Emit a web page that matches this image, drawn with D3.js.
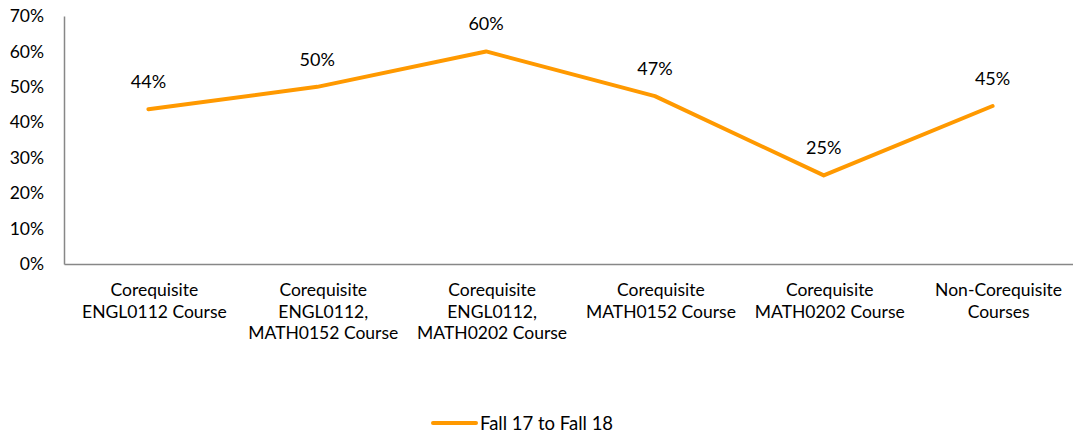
<!DOCTYPE html>
<html>
<head>
<meta charset="utf-8">
<script src="https://cdn.jsdelivr.net/npm/d3@7"></script>
<style>
  body { margin: 0; background: #fff; }
  svg text { font-family: Lato, "Open Sans", sans-serif; fill: #000; }
</style>
</head>
<body>
<svg id="chart" width="1073" height="435"></svg>
<script>
'use strict';

// categories (multi-line labels) and the single series
const categories = [
  ['Corequisite', 'ENGL0112 Course'],
  ['Corequisite', 'ENGL0112,', 'MATH0152 Course'],
  ['Corequisite', 'ENGL0112,', 'MATH0202  Course'],
  ['Corequisite', 'MATH0152 Course'],
  ['Corequisite', 'MATH0202 Course'],
  ['Non-Corequisite', 'Courses'],
];
const seriesName = 'Fall 17 to Fall 18';
const values = [0.437, 0.50, 0.60, 0.474, 0.25, 0.446];
const yTicks = [0, 0.1, 0.2, 0.3, 0.4, 0.5, 0.6, 0.7];

const orange = '#FF9900';
const axisGrey = '#878787';

const svg = d3.select('#chart');
const plot = { left: 64, right: 1077, top: 16, bottom: 264 };

const keys = categories.map((d, i) => i);
const xScale = d3.scaleBand().domain(keys).range([plot.left, plot.right]);
const yScale = d3.scaleLinear().domain([0, 0.7]).range([plot.bottom, plot.top]);
const pct = d3.format('.0%');

// y axis
const yAxis = svg.append('g')
  .attr('transform', `translate(${plot.left},0)`)
  .call(d3.axisLeft(yScale).tickValues(yTicks).tickSize(0).tickPadding(20)
    .tickFormat(pct));
yAxis.select('.domain').attr('stroke', axisGrey).attr('stroke-width', 1.5);
yAxis.selectAll('text').attr('font-size', '17.5px').attr('font-family', null);

// x axis
const xAxis = svg.append('g')
  .attr('transform', `translate(0,${plot.bottom})`)
  .call(d3.axisBottom(xScale).tickSize(0).tickFormat(''));
xAxis.select('.domain').attr('stroke', axisGrey).attr('stroke-width', 1.5);

// category labels
svg.append('g')
  .selectAll('text')
  .data(categories)
  .join('text')
  .attr('text-anchor', 'middle')
  .attr('font-size', '17.5px')
  .attr('transform', (d, i) => `translate(${xScale(i) + xScale.bandwidth() / 2 + 6},${plot.bottom + 32})`)
  .selectAll('tspan')
  .data(d => d)
  .join('tspan')
  .attr('x', 0)
  .attr('y', (d, i) => i * 21.5)
  .text(d => d);

// the line
const line = d3.line()
  .x((d, i) => xScale(i) + xScale.bandwidth() / 2)
  .y(d => yScale(d));
svg.append('path')
  .datum(values)
  .attr('d', line)
  .attr('fill', 'none')
  .attr('stroke', orange)
  .attr('stroke-width', 4)
  .attr('stroke-linejoin', 'round')
  .attr('stroke-linecap', 'round');

// data labels
svg.append('g')
  .selectAll('text')
  .data(values)
  .join('text')
  .attr('text-anchor', 'middle')
  .attr('font-size', '18px')
  .attr('x', (d, i) => xScale(i) + xScale.bandwidth() / 2)
  .attr('y', d => yScale(d) - 21)
  .text(d => pct(d));

// legend
const legend = svg.append('g').attr('transform', 'translate(433,423)');
legend.append('line')
  .attr('x1', 0).attr('x2', 43)
  .attr('stroke', orange).attr('stroke-width', 4).attr('stroke-linecap', 'round');
legend.append('text')
  .attr('x', 47).attr('y', 7)
  .attr('font-size', '18.5px')
  .text(seriesName);
</script>
</body>
</html>
